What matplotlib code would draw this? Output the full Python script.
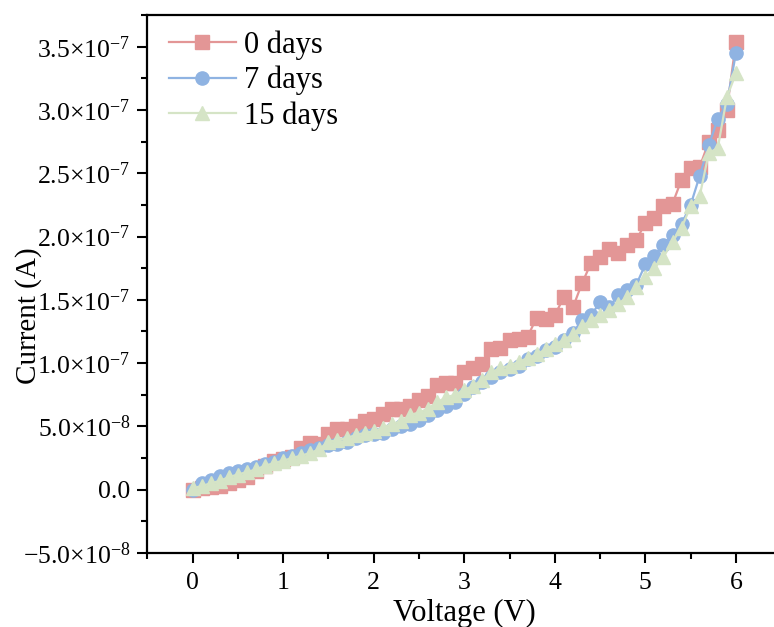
import numpy as np
import matplotlib
matplotlib.use("Agg")
import matplotlib.pyplot as plt
from matplotlib.ticker import MultipleLocator, FuncFormatter

plt.rcParams['font.family'] = ['Liberation Serif', 'DejaVu Serif']
plt.rcParams['mathtext.fontset'] = 'custom'
plt.rcParams['mathtext.rm'] = 'Liberation Serif'
plt.rcParams['mathtext.it'] = 'Liberation Serif:italic'

# voltage sweep (V)
voltage = [round(0.1 * i, 1) for i in range(61)]

# current in units of 1e-8 A
current_0d = [0.0, 0.1, 0.2, 0.3, 0.5, 0.8, 1.0, 1.5, 1.9, 2.3,
              2.4, 2.6, 3.3, 3.7, 3.6, 4.4, 4.8, 4.8, 5.0, 5.4,
              5.6, 6.0, 6.4, 6.4, 6.6, 7.1, 7.4, 8.3, 8.4, 8.4,
              9.3, 9.6, 9.9, 11.1, 11.2, 11.8, 11.9, 12.1, 13.6, 13.5,
              13.8, 15.2, 14.4, 16.3, 17.9, 18.4, 19.0, 18.7, 19.3, 19.7,
              21.1, 21.5, 22.4, 22.6, 24.5, 25.4, 25.5, 27.5, 28.4, 30.0,
              35.4]
current_7d = [0.0, 0.5, 0.8, 1.1, 1.3, 1.5, 1.6, 1.8, 2.0, 2.2,
              2.5, 2.7, 2.9, 3.1, 3.3, 3.5, 3.6, 3.8, 4.1, 4.3,
              4.4, 4.5, 4.8, 5.0, 5.2, 5.5, 5.9, 6.3, 6.6, 6.9,
              7.6, 8.1, 8.5, 8.9, 9.3, 9.5, 9.8, 10.3, 10.6, 11.0,
              11.3, 11.8, 12.4, 13.4, 13.8, 14.8, 14.4, 15.4, 15.8, 16.2,
              17.8, 18.5, 19.3, 20.1, 21.0, 22.5, 24.8, 27.2, 29.3, 30.5,
              34.5]
current_15d = [0.1, 0.3, 0.5, 0.7, 1.0, 1.2, 1.4, 1.6, 1.9, 2.1,
               2.3, 2.5, 2.7, 2.9, 3.2, 3.8, 3.9, 4.1, 4.3, 4.5,
               4.6, 4.9, 5.2, 5.4, 5.9, 6.1, 6.4, 6.9, 7.3, 7.5,
               7.9, 8.2, 8.7, 9.3, 9.6, 9.8, 10.1, 10.4, 10.7, 11.1,
               11.5, 11.8, 12.3, 12.9, 13.4, 13.8, 14.2, 14.7, 15.2, 16.0,
               16.8, 17.5, 18.4, 19.6, 20.7, 22.4, 23.2, 26.6, 27.0, 31.0,
               32.9]

labels = ['0 days', '7 days', '15 days']
colors = ['#E39696', '#8FB3E2', '#D5E4C6']
markers = ['s', 'o', '^']

v = np.array(voltage)
series = [np.array(c) * 1e-8 for c in (current_0d, current_7d, current_15d)]


def sci_fmt(y, pos):
    if abs(y) < 1e-12:
        return '0.0'
    e = int(np.floor(np.log10(abs(y)) + 1e-9))
    m = y / 10 ** e
    return r'$%.1f{\times}10^{%d}$' % (m, e)


fig = plt.figure(figsize=(7.74, 6.27), dpi=100)
ax = fig.add_axes([0.1903, 0.118, 0.819, 0.858])

for cur, lab, col, mk in zip(series, labels, colors, markers):
    ax.plot(v, cur, color=col, marker=mk, markersize=9.5, linewidth=1.6,
            label=lab)

ax.set_xlim(-0.5, 6.5)
ax.set_ylim(-5e-8, 3.75e-7)
ax.xaxis.set_major_locator(MultipleLocator(1))
ax.xaxis.set_minor_locator(MultipleLocator(0.5))
ax.yaxis.set_major_locator(MultipleLocator(5e-8))
ax.yaxis.set_minor_locator(MultipleLocator(2.5e-8))
ax.yaxis.set_major_formatter(FuncFormatter(sci_fmt))

ax.tick_params(which='major', direction='out', length=7, width=1.5,
               labelsize=18.5, pad=5)
ax.tick_params(axis='x', which='major', pad=7)
ax.tick_params(which='minor', direction='out', length=4, width=1.5)
for s in ax.spines.values():
    s.set_linewidth(1.6)

ax.set_xlabel('Voltage (V)', fontsize=22, labelpad=3)
ax.set_ylabel('Current (A)', fontsize=21)
ax.yaxis.set_label_coords(-0.166, 0.442)

ax.legend(loc='upper left', frameon=False, fontsize=22, handlelength=2.2,
          handletextpad=0.25, labelspacing=0.2, borderaxespad=0.2,
          bbox_to_anchor=(0.005, 1.006))

fig.savefig('out.png', dpi=100)
